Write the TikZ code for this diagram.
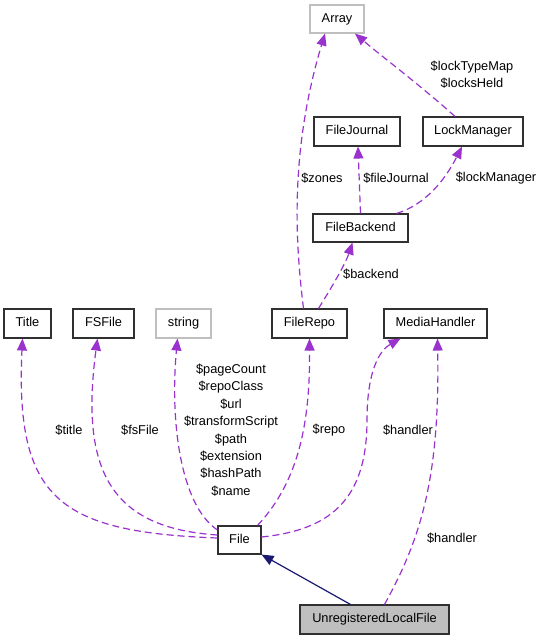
\documentclass[tikz,border=0pt]{standalone}
\usepackage{fontspec}
\setmainfont{Liberation Sans}
\usetikzlibrary{arrows.meta}
\definecolor{depc}{HTML}{9A32CD}
\definecolor{inhc}{HTML}{191970}
\definecolor{gborder}{HTML}{BFBFBF}
\definecolor{ulfill}{HTML}{BFBFBF}
\definecolor{bordc}{HTML}{303030}
\begin{document}
\begin{tikzpicture}[x=1pt,y=-1pt,font=\fontsize{12.8}{17.4}\selectfont,
  box/.style={draw=bordc, line width=1.1pt, fill=white, inner sep=0pt, minimum height=29pt, text height=9.3pt, text depth=2.7pt},
  gbox/.style={box, draw=gborder},
  lbl/.style={inner sep=0pt, align=center},
  depline/.style={draw=depc, line width=1.2pt, dash pattern=on 7pt off 4pt, -{Triangle[length=12pt,width=10pt,fill=depc]}},
  inhline/.style={draw=inhc, line width=1.2pt, -{Triangle[length=12pt,width=10pt,fill=inhc]}}]
\useasboundingbox (0,0) rectangle (541,640);
% nodes
\node[gbox, minimum width=54pt, minimum height=28pt] (Array) at (337,19) {Array};
\node[box, minimum width=86pt] (FileJournal) at (357,131.5) {FileJournal};
\node[box, minimum width=100pt] (LockManager) at (473,131.5) {LockManager};
\node[box, minimum width=95pt, minimum height=28pt] (FileBackend) at (360.5,228) {FileBackend};
\node[box, minimum width=47pt] (Title) at (27.5,323.5) {Title};
\node[box, minimum width=61pt] (FSFile) at (103.5,323.5) {FSFile};
\node[gbox, minimum width=55pt] (string) at (183.5,323.5) {string};
\node[box, minimum width=75pt] (FileRepo) at (309.5,323.5) {FileRepo};
\node[box, minimum width=103pt] (MediaHandler) at (435.5,323.5) {MediaHandler};
\node[box, minimum width=43pt, minimum height=28pt] (File) at (239.5,540) {File};
\node[box, fill=ulfill, minimum width=149pt] (ULF) at (374.5,619.5) {UnregisteredLocalFile};
% labels
\node[lbl] (ltitle) at (69,430) {\$title};
\node[lbl] (lfsfile) at (140,430) {\$fsFile};
\node[lbl] (lstring) at (231,430) {\$pageCount\\\$repoClass\\\$url\\\$transformScript\\\$path\\\$extension\\\$hashPath\\\$name};
\node[lbl] (lrepo) at (329,430) {\$repo};
\node[lbl] (lhandler) at (408,430) {\$handler};
\node[lbl] (lhandlertwo) at (452,538) {\$handler};
\node[lbl] (lzones) at (322,178) {\$zones};
\node[lbl] (ljournal) at (396,178) {\$fileJournal};
\node[lbl] (llock) at (496,178) {\$lockManager};
\node[lbl] (lbackend) at (371,274) {\$backend};
\node[lbl] (larray) at (472,75) {\$lockTypeMap\\\$locksHeld};
% connectors
\draw[depline] ([yshift=2pt]File.west) .. controls (60,532) and (15,500) .. ([xshift=-5pt]Title.south);
\draw[depline] ([yshift=5pt]File.west) .. controls (110,528) and (80,470) .. ([xshift=-6pt]FSFile.south);
\draw[depline] ([yshift=10pt]File.west) .. controls (180,505) and (170,420) .. ([xshift=-6pt]string.south);
\draw[depline] ([xshift=18pt]File.north) .. controls (300,480) and (310,420) .. (FileRepo.south);
\draw[depline] ([yshift=3pt]File.east) .. controls (330,530) and (367,500) .. (367,420) .. controls (367,370) and (380,350) .. ([xshift=-35pt]MediaHandler.south);
\draw[depline] ([xshift=10pt]ULF.north) .. controls (420,540) and (440,480) .. ([xshift=2pt]MediaHandler.south);
\draw[inhline] ([xshift=-24pt]ULF.north) -- (File.south east);
\draw[depline] ([xshift=-6pt]FileRepo.north) .. controls (295,240) and (290,150) .. ([xshift=-12pt]Array.south);
\draw[depline] ([xshift=9pt]FileRepo.north) .. controls (330,290) and (345,265) .. ([xshift=-8pt]FileBackend.south);
\draw[depline] (FileBackend.north) -- ([xshift=1pt]FileJournal.south);
\draw[depline] ([xshift=36pt]FileBackend.north) .. controls (425,205) and (445,180) .. ([xshift=-11pt]LockManager.south);
\draw[depline] ([xshift=-18pt]LockManager.north) .. controls (420,85) and (380,55) .. ([xshift=18pt]Array.south);
\end{tikzpicture}
\end{document}
